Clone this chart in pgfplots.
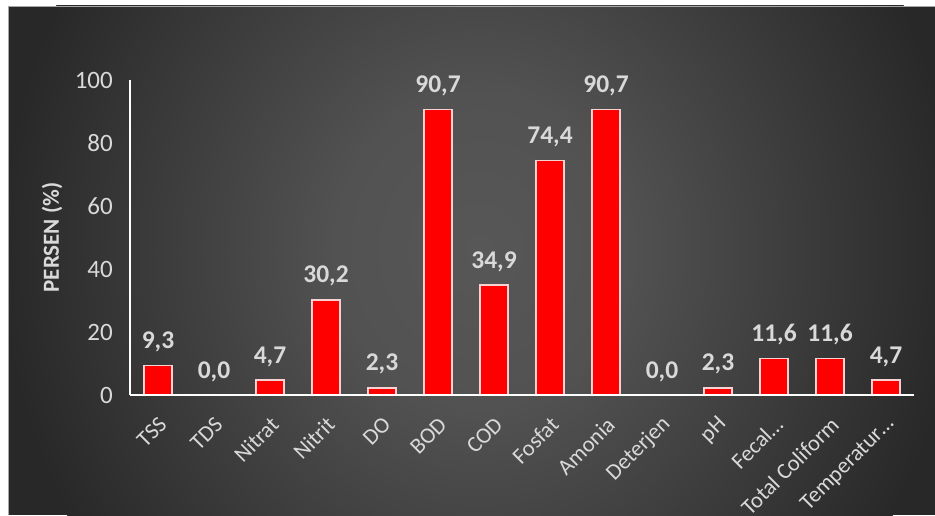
\documentclass[border=0pt]{standalone}
\usepackage{pgfplots}
\pgfplotsset{compat=1.18}
\usepackage{fontspec}
\setmainfont{Carlito}
\definecolor{bgin}{HTML}{575757}
\definecolor{bgmid}{HTML}{525252}
\definecolor{bgout}{HTML}{282828}
\definecolor{lbl}{HTML}{D9D9D9}
\definecolor{barred}{HTML}{FF0000}
\definecolor{baredge}{HTML}{F6D2D2}
\pgfdeclareradialshading{bgshade}{\pgfpointorigin}{color(0bp)=(bgin); color(7.5bp)=(bgmid); color(25bp)=(bgout); color(50bp)=(bgout)}
\begin{document}
\begin{tikzpicture}[x=1pt,y=1pt]
\fill[white] (0,0) rectangle (935,515);
\useasboundingbox (0,0) rectangle (935,515);
\fill[bgout] (8,0) rectangle (935,509);
\begin{scope}
\clip (8,0) rectangle (935,509);
\shade[shading=bgshade] (480,265) ellipse [x radius=480, y radius=520];
\end{scope}
\draw[gray!70, line width=0.8pt] (8,0) -- (8,509) -- (935,509);
\begin{axis}[
  scale only axis,
  width=784pt, height=315pt,
  at={(130pt,120pt)}, anchor=south west,
  xmin=-0.5, xmax=13.5, ymin=0, ymax=100,
  axis x line*=bottom, axis y line*=left,
  axis line style={white, line width=2pt, -},
  axis on top,
  major tick length=0pt,
  ytick={0,20,40,60,80,100},
  xtick={0,...,13},
  xticklabels={TSS,TDS,Nitrat,Nitrit,DO,BOD,COD,Fosfat,Amonia,Deterjen,pH,Fecal…,Total Coliform,Temperatur…},
  yticklabel style={font=\fontsize{25}{29}\selectfont, text=lbl, inner sep=0pt, xshift=-17pt, anchor=east},
  xticklabel style={font=\fontsize{22.5}{26}\selectfont, text=lbl, inner sep=0pt, xshift=5pt, yshift=-26pt, rotate=45, anchor=east},
  /pgf/number format/assume math mode=true,
  ylabel={PERSEN (\%)},
  every axis y label/.style={at={(axis description cs:0,0.5)}, xshift=-78pt, rotate=90, anchor=center, font=\bfseries\fontsize{23}{27}\selectfont, text=lbl},
  ybar, bar width=28pt,
  nodes near coords={\pgfmathprintnumber[fixed,fixed zerofill,precision=1,use comma,assume math mode=true]{\pgfplotspointmeta}},
  every node near coord/.append style={font=\bfseries\fontsize{25.5}{29}\selectfont, text=lbl, anchor=base, inner sep=0pt, yshift=17pt},
  clip=false,
]
\addplot[fill=barred, draw=baredge, line width=1.5pt] coordinates {
(0,9.3) (1,0.0) (2,4.7) (3,30.2) (4,2.3) (5,90.7) (6,34.9) (7,74.4) (8,90.7) (9,0.0) (10,2.3) (11,11.6) (12,11.6) (13,4.7)
};
\end{axis}
\end{tikzpicture}
\end{document}
